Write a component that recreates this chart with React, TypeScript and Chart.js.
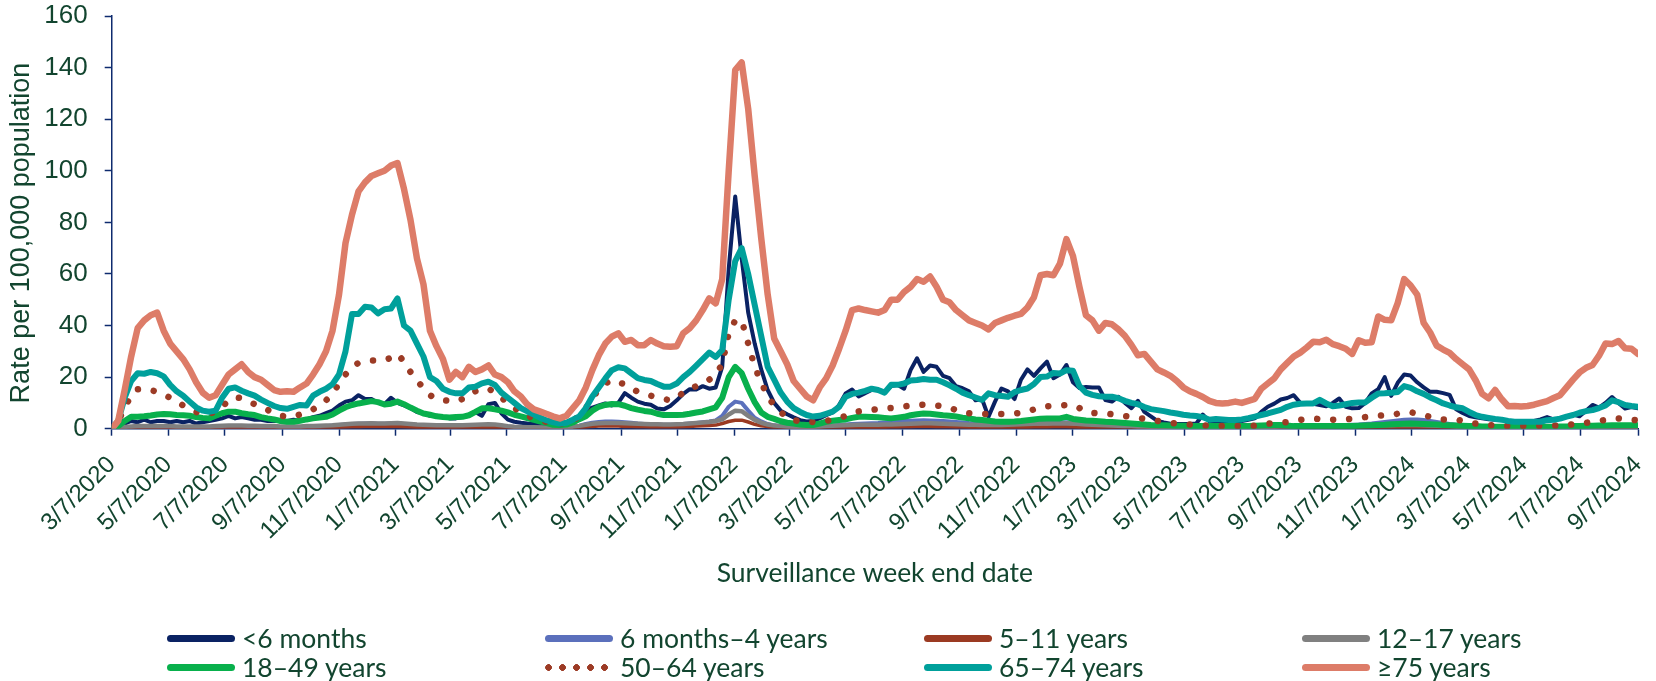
import React, { useEffect, useRef } from "react";
import { Chart, registerables } from "chart.js";

Chart.register(...registerables);

// ---------- data ----------
const startDate = "3/7/2020"; // first surveillance week end date (weekly data)

const tickLabels = [
  "3/7/2020", "5/7/2020", "7/7/2020", "9/7/2020", "11/7/2020",
  "1/7/2021", "3/7/2021", "5/7/2021", "7/7/2021", "9/7/2021", "11/7/2021",
  "1/7/2022", "3/7/2022", "5/7/2022", "7/7/2022", "9/7/2022", "11/7/2022",
  "1/7/2023", "3/7/2023", "5/7/2023", "7/7/2023", "9/7/2023", "11/7/2023",
  "1/7/2024", "3/7/2024", "5/7/2024", "7/7/2024", "9/7/2024",
];

const seriesNames = [
  "<6 months", "6 months\u20134 years", "5\u201311 years", "12\u201317 years",
  "18\u201349 years", "50\u201364 years", "65\u201374 years", "\u226575 years",
];

const yTitle = "Rate per 100,000 population";
const xTitle = "Surveillance week end date";

const under6Months = [
  0, 0.5, 2, 3, 2.5, 3.5, 2.5, 3, 3, 2.5,
  3, 2.5, 3, 2, 2.5, 3, 3.5, 4, 5, 4,
  4.5, 4, 3.5, 3.5, 3, 3, 3, 3, 3.5, 3,
  3.5, 4.5, 5, 6, 7, 9, 10.5, 11, 13, 11.5,
  11.5, 10, 9.5, 12, 10, 9, 8, 6.5, 6, 5,
  5, 4.5, 4, 4, 4.5, 5, 6.5, 5, 9.5, 10,
  6, 3.5, 2.7, 2.3, 2, 1.8, 1.6, 1.5, 1.4, 1.4,
  1.5, 2.5, 3.6, 7, 8.2, 9, 9.8, 9, 10, 13.8,
  12, 10.5, 9.7, 9.3, 7.8, 7.5, 8.8, 11, 13.5, 15.3,
  15.2, 16.5, 15.5, 16, 24, 62, 90, 66, 45, 33,
  23, 15, 10, 7, 5.6, 4.4, 3.3, 2.8, 3, 4,
  5.2, 6.3, 9.2, 13.7, 15.2, 12.5, 13.8, 15, 15, 14.3,
  16.5, 17, 15.5, 22.7, 27.3, 22, 24.5, 24, 20.5, 19.6,
  16.5, 15.7, 14.5, 11, 11.5, 4.6, 10.5, 15.6, 14.5, 11.5,
  19, 23, 20.5, 23.4, 26, 19.6, 21, 24.7, 18, 15.8,
  16.2, 16, 16, 11.1, 10.5, 12.4, 10, 8, 10.8, 6.5,
  4.8, 3, 2.4, 1.9, 1.8, 1.8, 1.8, 2, 5.5, 2.8,
  2, 2, 2, 2, 3, 3.5, 4, 6.5, 8.5, 9.7,
  11.3, 11.9, 13, 10, 9.8, 9.7, 9.2, 8.7, 10, 11.7,
  8.5, 7.9, 8, 10, 13.7, 15.3, 20, 12.7, 17.8, 21,
  20.6, 18, 16, 14.3, 14.3, 13.8, 13.1, 7.5, 6.1, 4.9,
  4.4, 4, 3.7, 3.5, 3.4, 2.8, 2.4, 2.5, 2.7, 3,
  3.6, 4.5, 3.6, 3.8, 4.6, 5.5, 4.8, 7, 9.2, 8.2,
  10, 12.3, 10, 7.8, 8.4, 7.9,
];

const months6To4Years = [
  0, 0.2, 0.5, 0.7, 0.8, 0.8, 0.8, 0.7, 0.7, 0.6,
  0.6, 0.5, 0.5, 0.5, 0.5, 0.5, 0.6, 0.7, 0.8, 0.8,
  0.8, 0.7, 0.7, 0.6, 0.6, 0.6, 0.5, 0.5, 0.5, 0.6,
  0.6, 0.7, 0.8, 1, 1.2, 1.4, 1.6, 1.8, 1.9, 2,
  2, 1.9, 1.9, 2, 2, 1.8, 1.6, 1.4, 1.2, 1.1,
  1, 1, 0.9, 0.9, 1, 1.1, 1.2, 1.3, 1.4, 1.3,
  1.1, 0.9, 0.7, 0.6, 0.5, 0.5, 0.5, 0.5, 0.5, 0.5,
  0.6, 0.8, 1.2, 1.8, 2.3, 2.6, 2.8, 2.8, 2.7, 2.5,
  2.3, 2, 1.8, 1.7, 1.6, 1.5, 1.5, 1.6, 1.8, 2,
  2.2, 2.5, 2.8, 3.2, 5, 8.5, 10.5, 10, 7, 4.2,
  2.8, 1.8, 1.3, 1, 0.9, 0.8, 0.8, 0.8, 0.9, 1,
  1.1, 1.2, 1.4, 1.6, 1.8, 1.9, 2, 2.1, 2.2, 2.4,
  2.6, 2.8, 3, 3.1, 3.2, 3.3, 3.2, 3.1, 3, 2.8,
  2.6, 2.4, 2.2, 2.1, 2, 2, 1.9, 1.9, 1.9, 2,
  2.1, 2.2, 2.3, 2.4, 2.5, 2.5, 2.4, 2.5, 2.3, 2,
  1.8, 1.6, 1.5, 1.4, 1.3, 1.2, 1.1, 1, 0.9, 0.8,
  0.7, 0.6, 0.6, 0.5, 0.5, 0.5, 0.5, 0.5, 0.5, 0.5,
  0.5, 0.5, 0.5, 0.5, 0.5, 0.6, 0.6, 0.7, 0.8, 0.9,
  1, 1.1, 1.2, 1.2, 1.3, 1.3, 1.3, 1.3, 1.3, 1.4,
  1.4, 1.5, 1.6, 1.8, 2, 2.3, 2.6, 2.9, 3.2, 3.5,
  3.6, 3.6, 3.4, 3, 2.6, 2.2, 1.8, 1.5, 1.2, 1,
  0.9, 0.8, 0.7, 0.6, 0.6, 0.5, 0.5, 0.5, 0.5, 0.5,
  0.5, 0.5, 0.5, 0.5, 0.6, 0.6, 0.6, 0.7, 0.7, 0.7,
  0.8, 0.8, 0.8, 0.8, 0.8, 0.8,
];

const years5To11 = [
  0, 0.1, 0.2, 0.3, 0.3, 0.3, 0.3, 0.3, 0.3, 0.3,
  0.3, 0.3, 0.3, 0.3, 0.3, 0.3, 0.3, 0.4, 0.4, 0.4,
  0.4, 0.4, 0.3, 0.3, 0.3, 0.3, 0.3, 0.3, 0.3, 0.3,
  0.3, 0.3, 0.4, 0.4, 0.5, 0.6, 0.7, 0.8, 0.8, 0.9,
  0.9, 0.9, 0.9, 0.9, 0.9, 0.8, 0.7, 0.6, 0.6, 0.5,
  0.5, 0.5, 0.5, 0.5, 0.5, 0.5, 0.6, 0.6, 0.6, 0.6,
  0.5, 0.4, 0.4, 0.3, 0.3, 0.3, 0.3, 0.3, 0.3, 0.3,
  0.3, 0.4, 0.5, 0.7, 0.9, 1, 1, 1, 1, 0.9,
  0.9, 0.8, 0.8, 0.7, 0.7, 0.7, 0.7, 0.7, 0.8, 0.9,
  1, 1.1, 1.2, 1.4, 2, 2.8, 3.3, 3.3, 2.6, 1.7,
  1.1, 0.8, 0.6, 0.5, 0.4, 0.4, 0.4, 0.4, 0.4, 0.4,
  0.4, 0.5, 0.5, 0.5, 0.6, 0.6, 0.6, 0.6, 0.6, 0.6,
  0.7, 0.7, 0.8, 0.8, 0.9, 0.9, 0.9, 0.8, 0.8, 0.8,
  0.7, 0.7, 0.6, 0.6, 0.6, 0.6, 0.6, 0.6, 0.6, 0.6,
  0.6, 0.6, 0.7, 0.7, 0.7, 0.8, 0.8, 0.8, 0.7, 0.6,
  0.6, 0.5, 0.5, 0.5, 0.4, 0.4, 0.4, 0.3, 0.3, 0.3,
  0.3, 0.3, 0.3, 0.3, 0.3, 0.3, 0.3, 0.3, 0.3, 0.3,
  0.3, 0.3, 0.3, 0.3, 0.3, 0.3, 0.3, 0.3, 0.3, 0.3,
  0.3, 0.3, 0.3, 0.3, 0.3, 0.3, 0.3, 0.3, 0.3, 0.3,
  0.3, 0.3, 0.3, 0.4, 0.4, 0.4, 0.5, 0.5, 0.5, 0.6,
  0.6, 0.6, 0.5, 0.5, 0.4, 0.4, 0.4, 0.3, 0.3, 0.3,
  0.3, 0.3, 0.3, 0.3, 0.3, 0.3, 0.3, 0.3, 0.3, 0.3,
  0.3, 0.3, 0.3, 0.3, 0.3, 0.3, 0.3, 0.3, 0.3, 0.3,
  0.3, 0.3, 0.3, 0.3, 0.3, 0.3,
];

const years12To17 = [
  0, 0.3, 0.7, 0.9, 1, 1, 1, 1, 1, 1,
  0.9, 0.9, 0.9, 0.9, 0.9, 0.9, 1, 1.1, 1.2, 1.2,
  1.2, 1.1, 1.1, 1, 1, 1, 0.9, 0.9, 0.9, 0.9,
  1, 1, 1.1, 1.2, 1.3, 1.5, 1.7, 1.9, 2, 2,
  2.1, 2, 2, 2.1, 2.2, 2, 1.8, 1.6, 1.5, 1.4,
  1.3, 1.3, 1.3, 1.3, 1.3, 1.4, 1.5, 1.6, 1.7, 1.6,
  1.3, 1, 0.8, 0.7, 0.6, 0.6, 0.5, 0.5, 0.5, 0.5,
  0.6, 0.8, 1.1, 1.5, 1.9, 2.1, 2.2, 2.2, 2.2, 2.1,
  2, 1.9, 1.8, 1.7, 1.7, 1.6, 1.6, 1.7, 1.8, 2,
  2.2, 2.4, 2.6, 3, 3.6, 5.5, 7, 6.8, 5, 3.4,
  2.3, 1.6, 1.2, 1, 0.9, 0.8, 0.8, 0.8, 0.8, 0.9,
  1, 1.1, 1.2, 1.3, 1.4, 1.5, 1.5, 1.5, 1.5, 1.6,
  1.6, 1.7, 1.8, 1.9, 2, 2.1, 2.1, 2, 1.9, 1.8,
  1.7, 1.6, 1.5, 1.5, 1.4, 1.4, 1.4, 1.4, 1.5, 1.6,
  1.7, 1.8, 1.9, 2, 2, 2, 2, 2.1, 2, 1.8,
  1.6, 1.5, 1.4, 1.3, 1.2, 1.1, 1, 1, 0.9, 0.9,
  0.8, 0.8, 0.8, 0.7, 0.7, 0.7, 0.7, 0.7, 0.7, 0.7,
  0.7, 0.7, 0.7, 0.7, 0.7, 0.7, 0.7, 0.8, 0.8, 0.8,
  0.9, 0.9, 0.9, 1, 1, 1, 1, 1, 1, 1,
  1, 1, 1.1, 1.1, 1.2, 1.2, 1.3, 1.3, 1.4, 1.4,
  1.4, 1.4, 1.3, 1.2, 1.1, 1, 1, 0.9, 0.9, 0.8,
  0.8, 0.8, 0.7, 0.7, 0.7, 0.7, 0.7, 0.7, 0.7, 0.7,
  0.7, 0.7, 0.7, 0.7, 0.7, 0.8, 0.8, 0.8, 0.8, 0.8,
  0.8, 0.9, 0.9, 0.9, 0.9, 0.9,
];

const years18To49 = [
  0, 1, 3, 4.6, 4.6, 4.8, 5.1, 5.5, 5.7, 5.6,
  5.3, 5.2, 5, 4.5, 4.2, 4, 5, 6, 6.6, 6.6,
  6, 5.6, 5.3, 4.5, 4, 3.6, 3, 2.7, 2.7, 3.1,
  3.6, 4, 4.3, 4.6, 5.5, 7, 8.3, 9.2, 9.8, 10.2,
  10.7, 10.3, 9.4, 9.7, 10.5, 9.5, 8.2, 7, 5.9, 5.4,
  4.8, 4.5, 4.3, 4.5, 4.6, 5.2, 6.5, 7.9, 7.9, 7.5,
  7, 6.3, 5.4, 4.8, 4.1, 3.4, 2.8, 2.2, 1.5, 1.4,
  1.6, 2.4, 3.7, 4.8, 7, 8.5, 9.2, 9.6, 9.5, 8.9,
  8, 7.4, 6.9, 6.6, 5.8, 5.3, 5.3, 5.3, 5.4, 5.8,
  6.3, 6.7, 7.5, 8.3, 12, 20, 24, 21.5, 15.5, 10.3,
  6.3, 4.6, 3.8, 2.9, 2.3, 2, 1.6, 1.4, 1.4, 2,
  2.7, 3.1, 3.4, 3.6, 4.2, 4.6, 4.6, 4.5, 4.4, 4.2,
  4, 4.3, 4.6, 5.2, 5.6, 5.9, 5.8, 5.5, 5.2, 5,
  4.7, 4.3, 4, 3.6, 3.4, 3.1, 2.8, 2.7, 2.7, 2.8,
  3, 3.3, 3.6, 3.9, 4, 4, 4, 4.6, 3.8, 3.5,
  3.2, 3.1, 2.9, 2.7, 2.6, 2.4, 2.2, 2, 1.8, 1.6,
  1.4, 1.3, 1.3, 1.2, 1.1, 1.1, 1, 1, 1, 1,
  1, 1, 1, 1, 1, 1, 1.1, 1.2, 1.3, 1.4,
  1.4, 1.2, 1, 1, 1, 1, 1, 1, 1, 1,
  1, 1, 1.1, 1.2, 1.3, 1.4, 1.5, 1.7, 1.8, 1.9,
  2, 1.9, 1.8, 1.7, 1.6, 1.4, 1.3, 1.2, 1.1, 1,
  1, 0.9, 0.9, 0.8, 0.8, 0.8, 0.8, 0.8, 0.8, 0.8,
  0.8, 0.8, 0.8, 0.9, 0.9, 1, 1, 1.1, 1.1, 1.2,
  1.2, 1.3, 1.3, 1.3, 1.3, 1.3,
];

const years50To64 = [
  0, 3, 8, 13, 15.3, 15.5, 15, 14.3, 13.3, 12,
  10.6, 9, 7.5, 6.5, 5.8, 5.6, 6.8, 8.5, 11, 12.2,
  11.8, 10.5, 9.5, 8.4, 7.3, 6, 5, 4.7, 4.7, 5.5,
  6.5, 7.5, 9, 11, 13.5, 17.5, 21, 24, 25.5, 26.2,
  26.4, 26.4, 26.6, 27.5, 29, 26, 22, 19, 15.5, 13,
  11.5, 11, 10.8, 10.5, 11.5, 13.5, 14.5, 15.2, 15.6, 14,
  12, 10, 8, 6.5, 5, 4, 3.2, 2.6, 2.2, 2,
  2.2, 3, 5, 8, 12, 15.2, 17.5, 18.9, 18, 17.2,
  15.7, 14.3, 13.5, 12.8, 12.2, 11.5, 11, 12, 14, 15.3,
  16.5, 17.8, 19, 21, 25, 37, 42, 42, 33, 24,
  18, 12.5, 9, 6.5, 4.2, 3.3, 2.9, 2.7, 2.6, 2.6,
  3, 3.5, 4, 5, 6.2, 6.7, 7.1, 7.3, 7.6, 7.9,
  8, 8.2, 8.6, 9, 9.2, 9.3, 9.2, 9, 8.7, 8.2,
  7.2, 6.3, 6, 5.8, 5.7, 5.7, 5.7, 5.7, 5.7, 5.9,
  6.2, 6.6, 7.5, 8.4, 8.7, 8.9, 9, 9.2, 9.2, 8,
  6.5, 6.1, 6, 5.9, 5.6, 5.3, 4.9, 4.6, 4.2, 3.8,
  3.4, 3, 2.6, 2.3, 2, 1.8, 1.6, 1.4, 1.3, 1.1,
  1, 1, 1, 1, 1, 1, 1.2, 1.6, 1.9, 2.2,
  2.3, 2.6, 3, 3.4, 3.8, 4, 3.7, 3.4, 3.5, 3.6,
  3.6, 3.9, 4.2, 4.5, 4.8, 5, 5.2, 5.3, 5.8, 6.4,
  6.4, 5.8, 5.3, 4.6, 3.8, 3.6, 3.6, 3.6, 3, 2.3,
  2, 1.7, 1.4, 1.2, 1, 1, 1, 1, 1, 1,
  1.1, 1.1, 1.2, 1.3, 1.4, 1.7, 2, 2.3, 2.6, 3,
  3.4, 3.8, 4, 3.7, 3.4, 3.3,
];

const years65To74 = [
  0, 3, 12, 18.5, 21.5, 21.3, 22, 21.5, 20.3, 17,
  14.5, 12.8, 10.5, 8.3, 7, 6.6, 7, 12, 15.5, 16,
  14.7, 13.7, 12.8, 11.3, 10, 8.8, 8, 7.7, 8.5, 9.2,
  9, 12.8, 14.3, 15.5, 17.3, 21, 30, 44.5, 44.5, 47.3,
  47, 44.7, 46.3, 46.6, 50.5, 40, 38, 33, 28, 20,
  18.5, 15.5, 14.3, 13.7, 13.7, 16, 16.3, 17.6, 18.2, 17,
  14, 12, 10, 8, 6.7, 5.5, 4.2, 3.2, 2.5, 2,
  2.3, 3.5, 4.8, 8, 12.5, 16, 19.5, 22.7, 23.8, 23.4,
  21.5, 19.6, 18.9, 18.5, 17.3, 16.3, 16.3, 17.5, 20, 22,
  24.5, 27, 29.5, 27.8, 30.5, 50, 65, 70, 60, 48,
  36, 24, 19, 14, 10.5, 8, 6.5, 5.3, 4.7, 5,
  5.8, 6.6, 8.5, 12.4, 13.5, 14, 14.7, 15.5, 15, 14,
  17, 17, 17.5, 18.7, 18.9, 19.3, 19, 19, 18, 16.8,
  15.5, 14, 13, 12.1, 11.2, 13.7, 13, 12.7, 12.4, 14.2,
  15, 15.6, 17.3, 20, 20.2, 21.6, 21.4, 22.7, 22.5, 16.5,
  14, 13.1, 12.6, 12.4, 12.4, 11.8, 10.8, 10, 9.5, 8.4,
  7.6, 7.2, 6.8, 6.3, 5.9, 5.4, 5.1, 4.9, 4.5, 3.5,
  3.8, 3.6, 3.4, 3.4, 3.6, 4.1, 4.7, 5.3, 5.9, 6.6,
  7.3, 8.5, 9.3, 9.7, 9.8, 9.8, 11.2, 9.8, 8.7, 9,
  9.5, 10, 10.2, 10.2, 12, 13.6, 13.7, 13.9, 14.2, 16.5,
  15.8, 14.5, 13.5, 12.1, 11, 9.8, 9, 8.3, 7.9, 6.5,
  5.3, 4.6, 4.2, 3.8, 3.5, 3, 2.7, 2.7, 2.7, 2.7,
  2.7, 3.3, 3.5, 3.9, 4.7, 5.3, 6.2, 6.8, 7.2, 8,
  9, 11, 10.3, 9.2, 8.8, 8.5,
];

const years75Plus = [
  0, 3, 15, 28, 39, 42, 44, 45, 38, 33,
  30, 27, 23, 18, 14, 12, 13, 17, 21, 23,
  25, 22, 20, 19, 17, 15, 14.3, 14.5, 14.3, 16,
  17.5, 21, 25, 30, 38, 52, 72, 83, 92, 95.5,
  98, 99, 100, 102, 103, 93, 81, 66, 56, 38,
  32, 27, 19, 22, 20, 24, 22, 23, 24.5, 21,
  20, 18, 14.5, 12.5, 9.4, 7.5, 6.6, 5.7, 4.7, 4,
  5, 8, 11, 16, 22.7, 28.5, 33, 35.7, 37, 33.7,
  34.4, 32.4, 32.4, 34.4, 33, 32, 31.8, 32, 37, 39,
  42, 46, 50.5, 48.6, 58, 100, 139, 142, 124, 98,
  74, 52, 35, 30, 25, 18.5, 15.5, 12.5, 11, 16,
  19.5, 24.5, 31, 38, 46, 46.6, 46, 45.5, 45, 46,
  50, 50, 53, 55, 58, 57, 59, 55, 50, 49,
  46, 44, 42, 41, 40, 38.5, 41, 42, 43, 43.8,
  44.5, 47, 51, 59.5, 60, 59.5, 64, 73.5, 67, 55,
  44, 42, 38, 41, 40.5, 38.5, 36, 32.5, 28.5, 29,
  26, 23, 21.8, 20.5, 18.5, 16, 14.5, 13.5, 12.3, 10.8,
  10, 9.8, 10, 10.5, 10, 10.8, 11.6, 15.5, 17.5, 19.5,
  23, 25.5, 28, 29.5, 31.5, 33.7, 33.5, 34.5, 32.8, 32,
  31, 29, 34.3, 33.3, 33.5, 43.5, 42.2, 42, 48.7, 58,
  55.5, 52, 41, 37.3, 32.2, 30.7, 29.4, 27, 25, 23,
  18.8, 13.5, 11.8, 15, 11.5, 8.7, 8.8, 8.6, 8.8, 9.3,
  10, 10.7, 11.9, 13, 16, 19, 21.8, 23.6, 24.7, 28.3,
  33, 32.8, 34, 31.2, 31, 29,
];

const seriesValues = [
  under6Months, months6To4Years, years5To11, years12To17,
  years18To49, years50To64, years65To74, years75Plus,
];

// ---------- styles ----------
const COLORS = ["#0a2263", "#5b70bc", "#9b3a22", "#808080", "#08b04c", "#9c3b25", "#00a09b", "#dd7c68"];
const WIDTHS = [4, 4, 3.5, 4.5, 6, 6.5, 6, 6.5];
const AXIS = "#0e2b6e";
const TEXT = "#12452f";
const ARIAL = "'Liberation Sans', Arial, sans-serif";
const HUMANIST = "Lato, 'Noto Sans', sans-serif";

const W = 1656;
const H = 681;
const PLOT_LEFT = 111.7;
const PLOT_RIGHT = 1638;
const PLOT_TOP = 16;
const PLOT_BOTTOM = 428.7;
const Y_TITLE_X = 22;
const Y_TITLE_Y = 233;

const LEGEND_COLS = [167, 545, 924, 1302];
const LEGEND_ROWS = [638, 667];

function dayOf(label: string): number {
  const [m, d, y] = label.split("/").map(Number);
  const [m0, d0, y0] = startDate.split("/").map(Number);
  return Math.round((Date.UTC(y, m - 1, d) - Date.UTC(y0, m0 - 1, d0)) / 86400000);
}

const tickDays = tickLabels.map(dayOf);
const lastDay = tickDays[tickDays.length - 1];

const yTitlePlugin = {
  id: "yTitlePlugin",
  afterDraw(chart: any) {
    const ctx = chart.ctx;
    ctx.save();
    ctx.translate(Y_TITLE_X, Y_TITLE_Y);
    ctx.rotate(-Math.PI / 2);
    ctx.fillStyle = TEXT;
    ctx.font = `27px ${ARIAL}`;
    ctx.textAlign = "center";
    ctx.textBaseline = "middle";
    ctx.fillText(yTitle, 0, 0);
    ctx.restore();
  },
};

function zeroPadding(scale: any) {
  scale.paddingTop = 0;
  scale.paddingBottom = 0;
  scale.paddingLeft = 0;
  scale.paddingRight = 0;
}

export default function App() {
  const ref = useRef<HTMLCanvasElement | null>(null);

  useEffect(() => {
    if (!ref.current) return;
    // draw in reverse so the first legend series lies at the bottom
    const datasets = seriesValues
      .map((vals, i) => ({
        label: seriesNames[i],
        data: vals.map((v, w) => ({ x: w * 7, y: v })),
        borderColor: COLORS[i],
        backgroundColor: COLORS[i],
        borderWidth: WIDTHS[i],
        borderDash: i === 5 ? [0.01, 16] : [],
        borderCapStyle: "round" as const,
        borderJoinStyle: "round" as const,
        pointRadius: 0,
        pointHoverRadius: 0,
        tension: 0,
        fill: false,
      }))
      .reverse();

    const chart = new Chart(ref.current, {
      type: "line",
      data: { datasets },
      plugins: [yTitlePlugin],
      options: {
        animation: false,
        responsive: false,
        maintainAspectRatio: false,
        events: [],
        layout: { padding: { top: PLOT_TOP, right: W - PLOT_RIGHT, left: 0, bottom: 0 } },
        plugins: { legend: { display: false }, tooltip: { enabled: false }, title: { display: false } },
        scales: {
          x: {
            type: "linear",
            min: 0,
            max: lastDay,
            afterBuildTicks: (scale: any) => {
              scale.ticks = tickDays.map((v) => ({ value: v }));
            },
            afterFit: (scale: any) => {
              scale.height = H - PLOT_BOTTOM;
              zeroPadding(scale);
            },
            ticks: {
              autoSkip: false,
              minRotation: 45,
              maxRotation: 45,
              padding: 15,
              color: TEXT,
              font: { family: ARIAL, size: 24 },
              callback: (value: any) => {
                const idx = tickDays.indexOf(Number(value));
                return idx >= 0 ? tickLabels[idx] : "";
              },
            },
            grid: {
              display: true,
              drawOnChartArea: false,
              drawTicks: true,
              tickLength: 7,
              tickColor: AXIS,
              tickWidth: 1.5,
            },
            border: { display: true, color: AXIS, width: 1.5 },
            title: {
              display: true,
              text: xTitle,
              color: TEXT,
              font: { family: HUMANIST, size: 26.5 },
              padding: { top: 0, bottom: 92 },
            },
          },
          y: {
            type: "linear",
            min: 0,
            max: 160,
            afterFit: (scale: any) => {
              scale.width = PLOT_LEFT;
              zeroPadding(scale);
            },
            ticks: {
              stepSize: 20,
              padding: 17,
              color: TEXT,
              font: { family: ARIAL, size: 26 },
            },
            grid: {
              display: true,
              drawOnChartArea: false,
              drawTicks: true,
              tickLength: 7,
              tickColor: AXIS,
              tickWidth: 1.5,
            },
            border: { display: true, color: AXIS, width: 1.5 },
            title: { display: false },
          },
        },
      },
    });
    return () => chart.destroy();
  }, []);

  return (
    <div style={{ position: "absolute", left: 0, top: 0, width: W, height: H, background: "#fff", overflow: "hidden" }}>
      <canvas ref={ref} width={W} height={H} style={{ position: "absolute", left: 0, top: 0, width: W, height: H }} />
      {seriesNames.map((name, i) => {
        const left = LEGEND_COLS[i % 4];
        const cy = LEGEND_ROWS[Math.floor(i / 4)];
        const dotted = i === 5;
        return (
          <React.Fragment key={name}>
            <div
              style={{
                position: "absolute",
                left,
                top: cy - 3.5,
                width: 68,
                height: 7,
                borderRadius: 3.5,
                background: dotted
                  ? `radial-gradient(circle at 3.5px 3.5px, ${COLORS[i]} 3.1px, transparent 3.6px) 0 0 / 14px 7px repeat-x`
                  : COLORS[i],
              }}
            />
            <span
              style={{
                position: "absolute",
                left: left + 75,
                top: cy,
                transform: "translateY(-50%)",
                fontFamily: HUMANIST,
                fontSize: 26.5,
                lineHeight: 1,
                color: TEXT,
                whiteSpace: "nowrap",
              }}
            >
              {name}
            </span>
          </React.Fragment>
        );
      })}
    </div>
  );
}
